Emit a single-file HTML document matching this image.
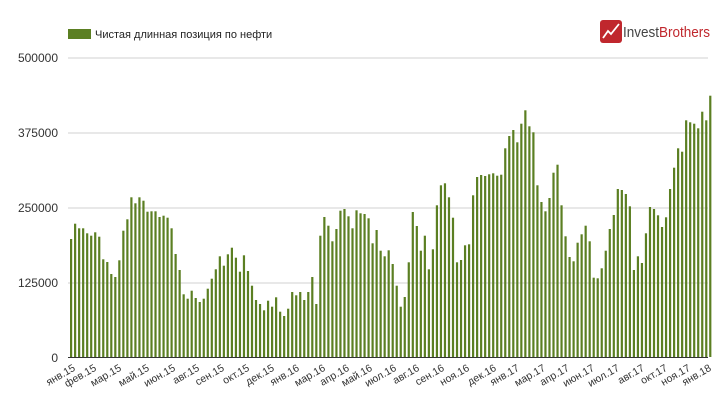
<!DOCTYPE html>
<html><head><meta charset="utf-8"><style>
html,body{margin:0;padding:0;background:#fff;}
svg{display:block;font-family:"Liberation Sans",Arial,sans-serif;}
</style></head><body>
<svg id="c" width="726" height="407" viewBox="0 0 726 407" xmlns="http://www.w3.org/2000/svg">
<rect width="726" height="407" fill="#fff"/>
<g stroke="#e0e0e0" stroke-width="1.5">
<line x1="68" x2="708" y1="58" y2="58"/>
<line x1="68" x2="708" y1="133" y2="133"/>
<line x1="68" x2="708" y1="208" y2="208"/>
<line x1="68" x2="708" y1="283" y2="283"/>
</g>
<g font-size="12" fill="#333" text-anchor="end">
<text x="58" y="62">500000</text>
<text x="58" y="137">375000</text>
<text x="58" y="212">250000</text>
<text x="58" y="287">125000</text>
<text x="58" y="362">0</text>
</g>
<g id="bars" fill="#5b7f22"></g>
<line x1="68" x2="708" y1="357.5" y2="357.5" stroke="#333" stroke-width="1"/>
<rect x="68" y="29" width="23" height="10" fill="#5b7f22"/>
<text x="95" y="38" font-size="11" fill="#222">Чистая длинная позиция по нефти</text>
<rect x="600" y="20" width="22" height="23" rx="3" fill="#c0272d"/>
<polyline points="603,38 608,31 611,34 619,24" fill="none" stroke="#fff" stroke-width="1.8"/>
<text x="623" y="37" font-size="15" fill="#444" textLength="87" lengthAdjust="spacingAndGlyphs">Invest<tspan fill="#c0272d">Brothers</tspan></text>
<g id="xl" font-size="10.5" fill="#333" text-anchor="end"></g>
</svg>
<script>
var y=[239,223.7,228.3,228.3,233.3,235.7,232.3,236.7,259.3,262,274,277,260.3,230.7,219.3,197.3,203.3,197.3,200.7,211.7,211.3,211.3,217,215.7,217.7,228.3,254,270,294.3,298.7,290.7,298,302,298.7,288.7,278.7,269.3,256.3,265.7,254.3,247.7,257.7,271.7,255.3,271,285.7,300,304,310.3,300.7,306.7,297.3,311.7];
var z2=[408,386,336,346,336,360,336,291,372,167,111,137,184,147,92,87,109,145,91,100,102,115,190,150,212,229,211,252,317,380,351,247,96,138,212,167,268,208,76,16,10,52,113,247,240,196,193,46];
z2.forEach(function(v){y.push(180+v/3);});
y.push(177,175,176);
var z3=[283,280,287,284,205,168,150,187,131,91,139,157,316,366,394,354,278,254,376,469,531,544,488,463,437,484,593,595,565,512,447,405,327,330,342,379,570,529,549,460,381,387,406,441,412,327,263,205,215,121,127,131,145,95,121,47];
z3.forEach(function(v){y.push(80+v/3);});
var g=document.getElementById('bars'),s='';
y.forEach(function(t,i){var x=70+i*4.02;s+='<rect x="'+x.toFixed(2)+'" y="'+t.toFixed(1)+'" width="2.2" height="'+(357-t).toFixed(1)+'"/>';});
g.innerHTML=s;
var L=[["янв.15",76],["фев.15",97],["мар.15",122],["май.15",150],["июн.15",176],["авг.15",200],["сен.15",225],["окт.15",250],["дек.15",275],["янв.16",300],["мар.16",326],["апр.16",350],["май.16",373],["июл.16",397],["авг.16",420],["сен.16",445],["ноя.16",470],["дек.16",497],["янв.17",520],["мар.17",546],["апр.17",570],["июн.17",595],["июл.17",620],["авг.17",645],["окт.17",668],["ноя.17",691],["янв.18",712]];
var h='';L.forEach(function(l){h+='<text transform="translate('+l[1]+',370) rotate(-30)">'+l[0]+'</text>';});
document.getElementById('xl').innerHTML=h;
</script>
</body></html>
